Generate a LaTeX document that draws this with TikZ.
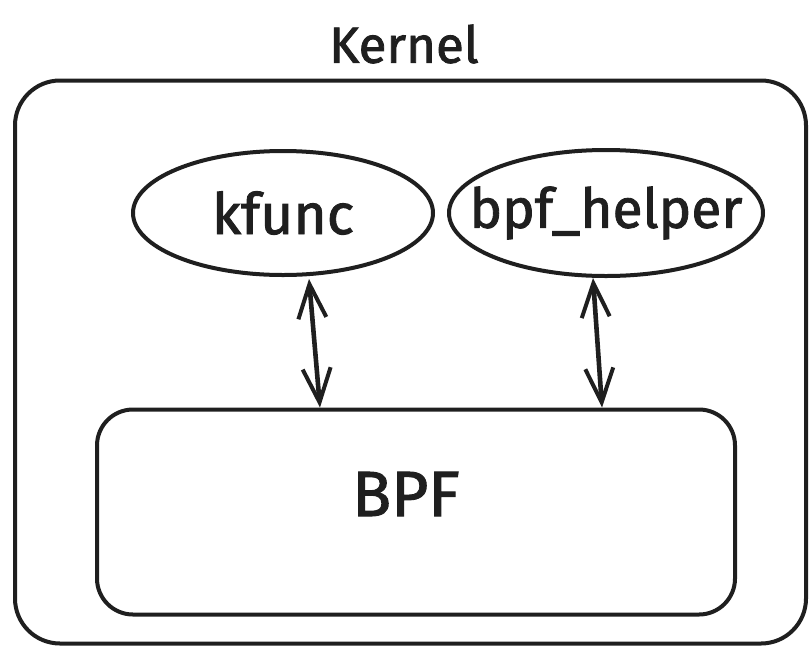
\documentclass[tikz,border=0pt]{standalone}
\usepackage{fontspec}
\setmainfont{Fira Sans}[FakeBold=1.6]
\usetikzlibrary{shapes.geometric,arrows.meta}
\tikzset{
  stroke/.style={draw=black!88, line width=4pt},
  frame/.style={stroke, rounded corners=#1, inner sep=0pt},
  bubble/.style={stroke, ellipse, inner sep=0pt},
  label/.style={font=\fontsize{#1}{#1}\selectfont, text=black!88, inner sep=0pt},
  link/.style={black!88, line width=4.6pt,
    {Straight Barb[length=34pt,width=28pt,line width=4pt]}-{Straight Barb[length=34pt,width=28pt,line width=4pt]}},
}
\begin{document}
\begin{tikzpicture}[x=1pt,y=-1pt]
  \useasboundingbox (0,0) rectangle (811,646);
  % kernel frame and title
  \node[frame=45pt, minimum width=791pt, minimum height=563pt] (kernel) at (410.5,362) {};
  \node[label=51] (title) at (404,44) {Kernel};
  % kernel-side functions
  \node[bubble, minimum width=300pt, minimum height=124pt] (kfunc) at (283,213) {};
  \node[label=57] (kfunctext) at (kfunc.center) {kfunc};
  \node[bubble, minimum width=314pt, minimum height=126pt] (helper) at (606,213) {};
  \node[label=55] (helpertext) at (helper.center) {bpf\_helper};
  % BPF program box
  \node[frame=36pt, minimum width=638pt, minimum height=205pt] (bpf) at (416,512) {};
  \node[label=64] (bpftext) at (406,494) {BPF};
  % calls between BPF and the kernel
  \draw[link] ([xshift=26pt,yshift=-2pt]kfunc.south) -- ([xshift=-96pt]bpf.north);
  \draw[link] ([xshift=-13pt]helper.south) -- ([xshift=186pt]bpf.north);
\end{tikzpicture}
\end{document}
